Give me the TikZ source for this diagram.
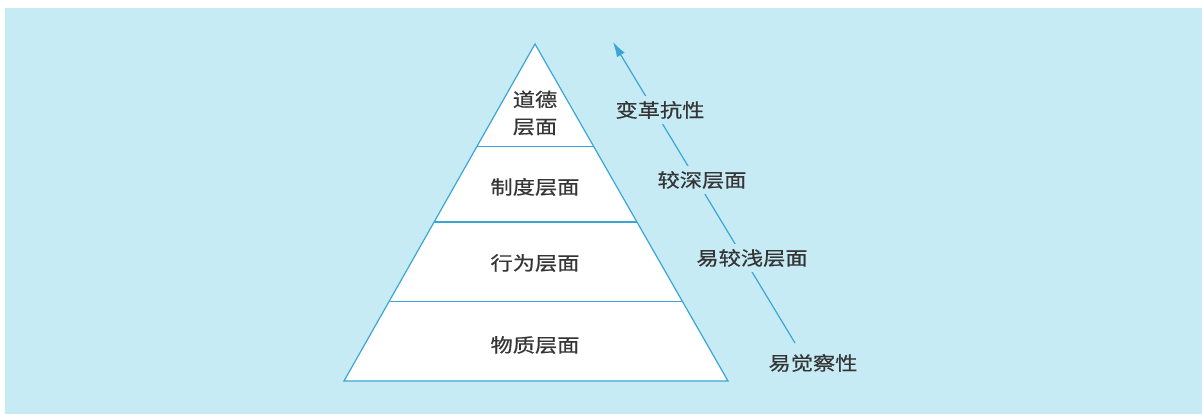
\documentclass[tikz,border=0pt]{standalone}
\usepackage{fontspec}
\setmainfont{Noto Sans CJK SC}
\newfontfamily\cjkfont[FakeBold=0.5]{Noto Sans CJK SC}
\usetikzlibrary{calc,arrows.meta}
\definecolor{bgc}{HTML}{C6EBF5}
\definecolor{linec}{HTML}{3BA6D6}
\definecolor{txtc}{HTML}{353535}
\newcommand\widetxt[1]{\scalebox{1.17}[1]{#1}}
\tikzset{
  lbl/.style={text=txtc, font=\cjkfont\fontsize{19}{27}\selectfont, inner sep=0pt, align=center},
  side/.style={lbl, fill=bgc, inner xsep=3pt, inner ysep=5pt},
  edge/.style={draw=linec, line width=1.2pt},
}
\begin{document}
\begin{tikzpicture}[x=1pt,y=-1pt]
\useasboundingbox (0,0) rectangle (1202,414);
\fill[white] (0,0) rectangle (1202,414);
\fill[bgc] (5,8) rectangle (1202,414);
% pyramid
\coordinate (A) at (535,44);
\coordinate (BL) at (344,381);
\coordinate (BR) at (728,381);
\filldraw[edge, fill=white] (A) -- (BL) -- (BR) -- cycle;
\coordinate (l1) at ($(A)!0.304!(BL)$);
\coordinate (r1) at ($(A)!0.304!(BR)$);
\coordinate (l2) at ($(A)!0.528!(BL)$);
\coordinate (r2) at ($(A)!0.528!(BR)$);
\coordinate (l3) at ($(A)!0.763!(BL)$);
\coordinate (r3) at ($(A)!0.763!(BR)$);
\draw[edge] (l1) -- (r1);
\draw[edge] (l2) -- (r2);
\draw[edge] (l3) -- (r3);
\node[lbl] (n1) at (535,113) {\widetxt{道德}\\\widetxt{层面}};
\node[lbl] (n2) at (535,187) {\widetxt{制度层面}};
\node[lbl] (n3) at (535,263) {\widetxt{行为层面}};
\node[lbl] (n4) at (535,345) {\widetxt{物质层面}};
% arrow
\coordinate (s) at (795,343);
\coordinate (e) at (613,42);
\draw[edge, -{Latex[length=15pt,width=9pt]}] (s) -- (e);
\node[side] (t1) at (660,110) {\widetxt{变革抗性}};
\node[side] (t2) at (702,180) {\widetxt{较深层面}};
\node[side] (t3) at (752,258) {\widetxt{易较浅层面}};
\node[lbl] (t4) at (813,363) {\widetxt{易觉察性}};
\end{tikzpicture}
\end{document}
